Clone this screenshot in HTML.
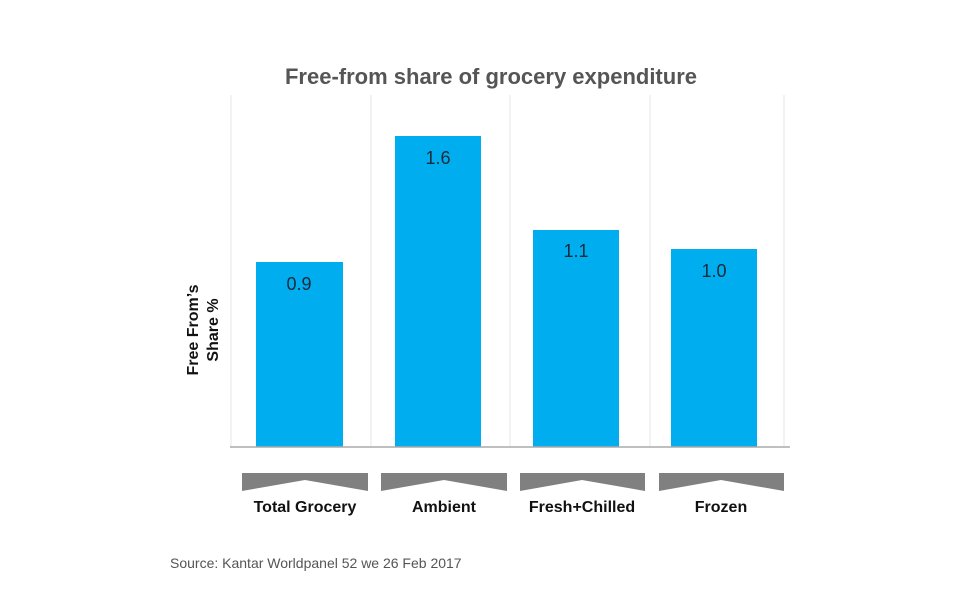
<!DOCTYPE html>
<html><head><style>
body{margin:0;background:#fff;}
svg{display:block;font-family:"Liberation Sans",Arial,sans-serif;}
</style></head><body>
<svg width="978" height="607" viewBox="0 0 978 607">
<rect width="978" height="607" fill="#fff"/>
<text x="491" y="84" text-anchor="middle" font-size="22" font-weight="bold" fill="#555">Free-from share of grocery expenditure</text>
<g stroke="#e6e6e6" stroke-width="1">
<line x1="231" y1="95" x2="231" y2="447"/>
<line x1="371" y1="95" x2="371" y2="447"/>
<line x1="510" y1="95" x2="510" y2="447"/>
<line x1="650" y1="95" x2="650" y2="447"/>
<line x1="784" y1="95" x2="784" y2="447"/>
</g>
<g fill="#00AEEF">
<rect x="256" y="262" width="87" height="185"/>
<rect x="395" y="136" width="86" height="311"/>
<rect x="533" y="230" width="86" height="217"/>
<rect x="671" y="249" width="86" height="198"/>
</g>
<line x1="230" y1="447" x2="790" y2="447" stroke="#aaa" stroke-width="1.5"/>
<g font-size="18" fill="#1a2a3a" text-anchor="middle">
<text x="299" y="290">0.9</text>
<text x="438" y="164">1.6</text>
<text x="576" y="257">1.1</text>
<text x="714" y="277">1.0</text>
</g>
<text transform="translate(198,330) rotate(-90)" text-anchor="middle" font-size="16" font-weight="bold" fill="#111"><tspan x="0" dy="0">Free From’s</tspan><tspan x="0" dy="20">Share %</tspan></text>
<g fill="#808080">
<polygon points="242,473 368,473 368,491 305,480 242,491"/>
<polygon points="381,473 507,473 507,491 444,480 381,491"/>
<polygon points="520,473 645,473 645,491 582,480 520,491"/>
<polygon points="659,473 784,473 784,491 721,480 659,491"/>
</g>
<g font-size="16" font-weight="bold" fill="#111" text-anchor="middle">
<text x="305" y="512">Total Grocery</text>
<text x="444" y="512">Ambient</text>
<text x="582" y="512">Fresh+Chilled</text>
<text x="721" y="512">Frozen</text>
</g>
<text x="170" y="568" font-size="14" fill="#555">Source:  Kantar Worldpanel 52 we 26 Feb 2017</text>
</svg>
</body></html>
